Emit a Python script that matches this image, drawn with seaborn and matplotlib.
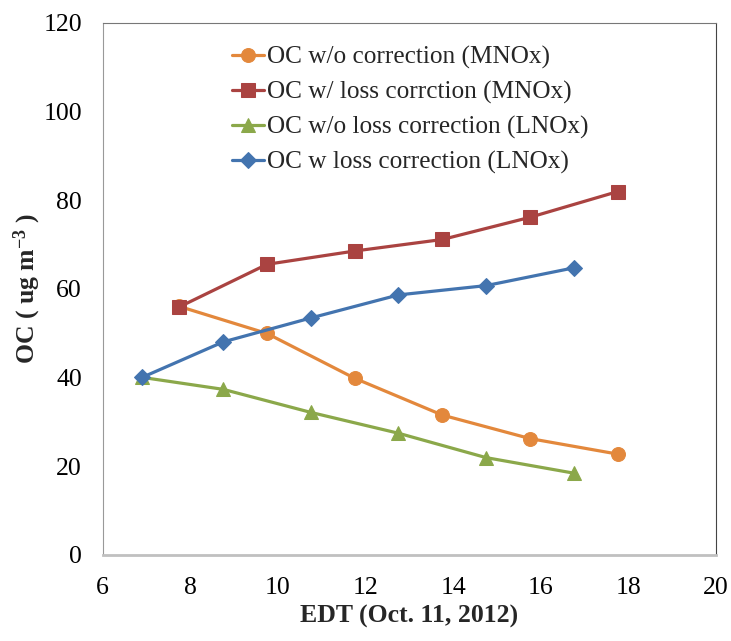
import matplotlib
matplotlib.use("Agg")
import matplotlib.pyplot as plt
import seaborn as sns
import pandas as pd

# hours (EDT) for the two runs
t_mnox = [7.75, 9.75, 11.75, 13.75, 15.75, 17.75]
t_lnox = [6.9, 8.75, 10.75, 12.75, 14.75, 16.75]

oc_mnox_raw = [56.0, 49.9, 39.8, 31.5, 26.2, 22.7]
oc_mnox_corr = [55.9, 65.5, 68.5, 71.1, 76.1, 81.9]
oc_lnox_raw = [40.0, 37.3, 32.1, 27.4, 21.9, 18.4]
oc_lnox_corr = [40.0, 48.0, 53.4, 58.6, 60.7, 64.7]

labels = ["OC w/o correction (MNOx)",
          "OC w/ loss corrction (MNOx)",
          "OC w/o loss correction (LNOx)",
          "OC w loss correction (LNOx)"]

sns.set_style("white")
plt.rcParams['font.family'] = ['Liberation Serif', 'DejaVu Serif']
plt.rcParams['mathtext.fontset'] = 'custom'
plt.rcParams['mathtext.rm'] = 'Liberation Serif'
plt.rcParams['mathtext.bf'] = 'Liberation Serif:bold'

FS = 18.5

series = [
    (t_mnox, oc_mnox_raw, labels[0], "#E3883C", "o", 10),
    (t_mnox, oc_mnox_corr, labels[1], "#AA4341", "s", 9.5),
    (t_lnox, oc_lnox_raw, labels[2], "#8BA84A", "^", 10.5),
    (t_lnox, oc_lnox_corr, labels[3], "#4374AF", "D", 8.5),
]

fig = plt.figure(figsize=(7.31, 6.41), dpi=100)
ax = fig.add_axes([0.1405, 0.1346, 0.8392, 0.8300])

for x, y, lab, col, mk, ms in series:
    df = pd.DataFrame({'t': x, 'oc': y})
    sns.lineplot(data=df, x='t', y='oc', ax=ax, color=col, marker=mk,
                 markersize=ms, markeredgecolor=col, linewidth=2.3,
                 label=lab, sort=False)

ax.set_xlim(6, 20)
ax.set_ylim(0, 120)
ax.set_xticks(range(6, 21, 2))
ax.set_yticks(range(0, 121, 20))
ax.tick_params(axis='both', labelsize=FS, labelcolor='black', length=5,
               direction='out', width=1)
ax.tick_params(axis='x', pad=11, color='#A8A8A8')
ax.tick_params(axis='y', pad=10, color='#999999')

ax.spines['left'].set_color('#999999')
ax.spines['bottom'].set_color('#C0C0C0')
ax.spines['bottom'].set_linewidth(2)
ax.spines['top'].set_color('#777777')
ax.spines['right'].set_color('#444444')
for s in ax.spines.values():
    s.set_visible(True)

ax.set_xlabel("EDT (Oct. 11, 2012)", fontsize=FS, fontweight='bold', labelpad=4)
ax.set_ylabel(r"OC ( ug m$\mathbf{^{-3}}$ )", fontsize=FS, fontweight='bold', labelpad=0)

leg = ax.legend(loc='upper left', bbox_to_anchor=(0.21, 0.956), frameon=False,
                fontsize=18.2, handlelength=1.3, handletextpad=0.12,
                labelspacing=0.47, borderaxespad=0, borderpad=0)

fig.savefig("out.png", dpi=100)
